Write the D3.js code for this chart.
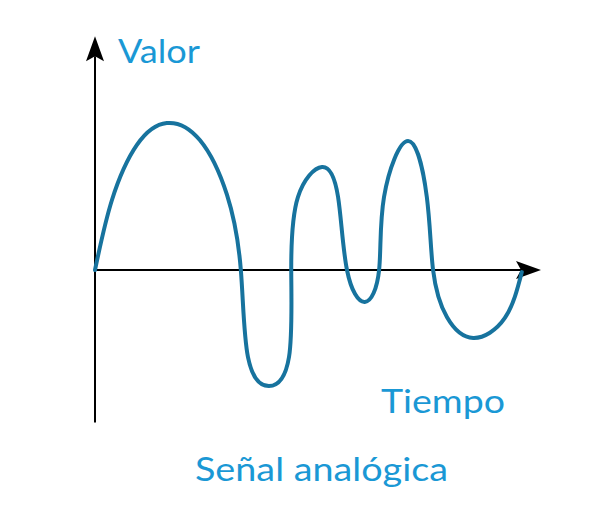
<!DOCTYPE html>
<html><head><meta charset="utf-8">
<script src="https://cdn.jsdelivr.net/npm/d3@7"></script>
<style>body{margin:0;background:#fff}svg{display:block}</style>
</head><body>
<script>
// Signal samples (time, value)
const times  = [0, 0.38, 0.94, 1.61, 2.35, 2.96, 3.27, 3.43, 3.90, 4.35, 4.40, 4.55, 5.09, 5.45, 5.65, 6.05, 6.37, 6.48, 7.02, 7.44, 7.58, 7.89, 8.48, 9.19, 9.57];
const values = [0, 4.73, 8.45, 9.93, 8.78, 5.07, 0, -5.88, -7.84, -5.88, 0, 4.93, 6.96, 4.93, 0, -2.16, 0, 4.93, 8.72, 4.93, 0, -3.18, -4.59, -3.24, -0.14];
const labels = {y: "Valor", x: "Tiempo", title: "Señal analógica"};

const W = 603, H = 516;
const svg = d3.select("body").append("svg").attr("width", W).attr("height", H);

const x = d3.scaleLinear().domain([0, 10]).range([95, 541]);
const y = d3.scaleLinear().domain([-10, 10]).range([418, 122]);

const x0 = x(0), y0 = y(0);
const axisEndX = x(10), axisTopY = y(15.8), axisBottomY = y(-10.3);

// axes
svg.append("line").attr("x1", x0).attr("x2", x0).attr("y1", axisBottomY).attr("y2", axisTopY + 20)
  .attr("stroke", "#000").attr("stroke-width", 2);
svg.append("line").attr("x1", x0).attr("x2", axisEndX - 20).attr("y1", y0).attr("y2", y0)
  .attr("stroke", "#000").attr("stroke-width", 2);
// arrowheads
svg.append("path").attr("fill", "#000")
  .attr("d", `M${x0},${axisTopY} L${x0-9},${axisTopY+25} L${x0},${axisTopY+20} L${x0+9},${axisTopY+25} Z`);
svg.append("path").attr("fill", "#000")
  .attr("d", `M${axisEndX},${y0} L${axisEndX-25},${y0-9} L${axisEndX-20},${y0} L${axisEndX-25},${y0+9} Z`);

// signal
const data = times.map((t, i) => ({t, v: values[i]}));
const line = d3.line().x(d => x(d.t)).y(d => y(d.v)).curve(d3.curveNatural);
svg.append("path").datum(data).attr("d", line)
  .attr("fill", "none").attr("stroke", "#17739e").attr("stroke-width", 4)
  .attr("stroke-linecap", "round").attr("stroke-linejoin", "round");

const font = "Lato, 'Open Sans', sans-serif";
const blue = "#1a98d5";
function label(txt, xx, yy, len) {
  svg.append("text").attr("x", xx).attr("y", yy).text(txt)
    .attr("font-family", font).attr("font-size", 33).attr("fill", blue)
    .attr("textLength", len).attr("lengthAdjust", "spacingAndGlyphs");
}
label(labels.y, 118, 63, 82);
label(labels.x, 381, 413, 124);
label(labels.title, 195, 481, 253);
</script>
</body></html>
